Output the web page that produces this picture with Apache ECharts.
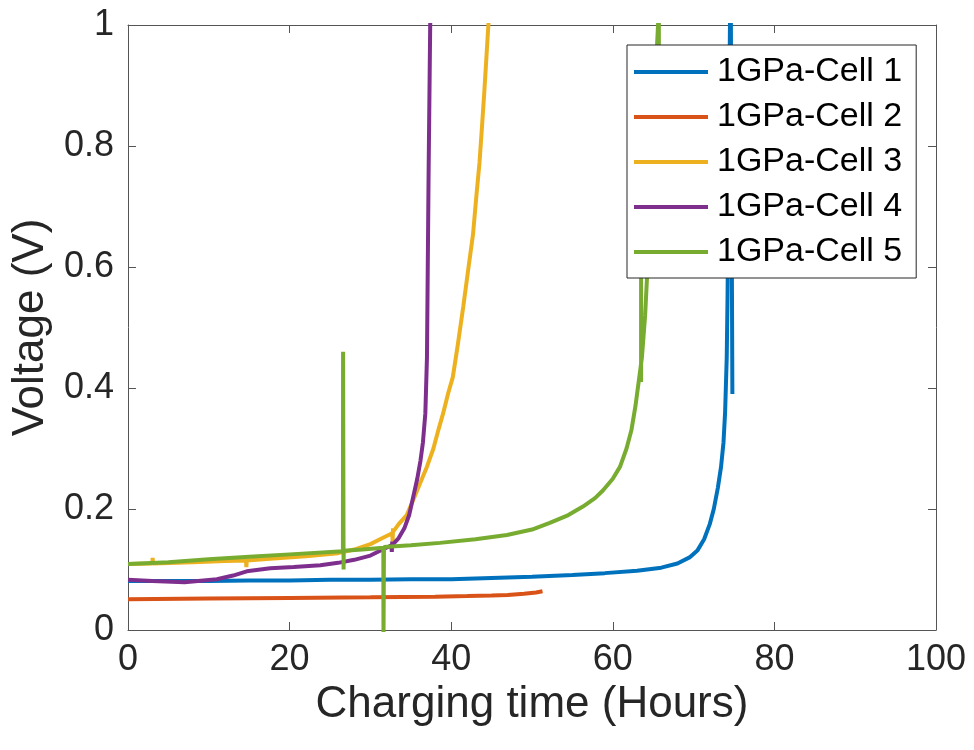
<!DOCTYPE html>
<html>
<head>
<meta charset="utf-8">
<script src="https://cdn.jsdelivr.net/npm/echarts@6/dist/echarts.min.js"></script>
<style>html,body{margin:0;padding:0;background:#fff;}#c{width:974px;height:750px;}</style>
</head>
<body>
<div id="c"></div>
<script>
var seriesNames = ['1GPa-Cell 1','1GPa-Cell 2','1GPa-Cell 3','1GPa-Cell 4','1GPa-Cell 5'];
var xTicks = [0,20,40,60,80,100];
var yTicks = [0,0.2,0.4,0.6,0.8,1];

var cell1 = [[0,0.081],[5,0.081],[10,0.081],[15,0.082],[20,0.082],[25,0.083],[30,0.083],[35,0.084],[40,0.084],[45,0.086],[50,0.088],[55,0.091],[59,0.094],[63,0.098],[66,0.103],[68,0.110],[69.5,0.120],[70.5,0.132],[71.3,0.150],[72,0.175],[72.5,0.20],[73,0.235],[73.4,0.27],[73.7,0.31],[73.9,0.36],[74.1,0.45],[74.2,0.55],[74.3,0.7],[74.4,0.85],[74.5,1.0],[74.6,1.05],[74.8,1.05],[74.8,0.39]];
var cell2 = [[0,0.051],[10,0.052],[20,0.053],[30,0.054],[38,0.055],[42,0.056],[45,0.057],[47,0.058],[49,0.060],[50.5,0.062],[51.3,0.064]];
var cell3 = [[0,0.109],[3,0.110],[3.05,0.119],[3.1,0.110],[8,0.112],[12,0.114],[14.6,0.115],[14.65,0.104],[14.7,0.115],[18,0.118],[22,0.122],[26,0.127],[28,0.133],[30,0.142],[31.5,0.152],[32.7,0.160],[32.75,0.146],[32.8,0.168],[32.85,0.163],[33.5,0.175],[34.5,0.19],[35.3,0.215],[36.1,0.241],[37.0,0.27],[37.8,0.30],[38.4,0.33],[39,0.358],[39.6,0.39],[40.2,0.418],[40.8,0.47],[41.5,0.535],[42.1,0.595],[42.7,0.654],[43.1,0.715],[43.5,0.772],[43.8,0.83],[44.1,0.89],[44.35,0.945],[44.6,1.0],[44.7,1.02]];
var cell4 = [[0,0.083],[3,0.081],[7,0.079],[11,0.084],[13,0.09],[14.7,0.097],[17.6,0.102],[20.5,0.104],[23.8,0.107],[26,0.111],[28,0.116],[30,0.123],[31.2,0.131],[32.3,0.138],[32.6,0.140],[32.65,0.129],[32.7,0.146],[32.75,0.141],[33.5,0.152],[34.2,0.168],[34.8,0.19],[35.3,0.22],[35.8,0.25],[36.2,0.28],[36.5,0.31],[36.8,0.358],[37.0,0.45],[37.1,0.6],[37.2,0.75],[37.4,1.0],[37.45,1.02]];
var cell5 = [[0,0.109],[5,0.112],[10,0.117],[15,0.121],[20,0.125],[26.6,0.130],[26.62,0.46],[26.68,0.10],[26.7,0.131],[29,0.133],[31.6,0.136],[31.62,-0.02],[31.68,0.137],[35,0.14],[38.6,0.144],[43,0.150],[46.9,0.157],[50,0.166],[52.2,0.177],[54.5,0.19],[56.3,0.204],[57.8,0.218],[58.8,0.231],[60,0.25],[60.9,0.27],[61.7,0.30],[62.3,0.33],[62.8,0.37],[63.2,0.41],[63.6,0.45],[64.0,0.52],[64.3,0.6],[64.8,0.78],[65.3,0.92],[65.6,1.0],[65.7,1.03],[65.7,0.9],[63.5,0.9],[63.5,0.41]];

var colors = ['#0072BD','#D95319','#EDB120','#7E2F8E','#77AC30'];
var allData = [cell1,cell2,cell3,cell4,cell5];

var FONT = "'Liberation Sans', Arial, Helvetica, sans-serif";
var AX = '#555555';
var TXT = '#262626';

var chart = echarts.init(document.getElementById('c'), null, {renderer:'canvas'});
var series = allData.map(function(d,i){
  return {
    name: seriesNames[i], type:'line', data:d, showSymbol:false, symbol:'none',
    lineStyle:{color:colors[i], width:4}, itemStyle:{color:colors[i]},
    clip:true, animation:false, z:2
  };
});
var tick = {show:true, inside:true, length:8, lineStyle:{color:AX}};
chart.setOption({
  animation:false,
  backgroundColor:'#fff',
  grid:{left:128, right:38, top:25, bottom:120},
  legend:{
    orient:'vertical', left:627, top:45,
    backgroundColor:'#fff', borderColor:TXT, borderWidth:1,
    padding:[10,14,9,7], itemGap:11, itemWidth:74, itemHeight:4, icon:'rect',
    textStyle:{fontFamily:FONT, fontSize:34, color:'#000', lineHeight:34, padding:[0,0,0,4]},
    data: seriesNames, z:10
  },
  xAxis:[{
    type:'value', min:0, max:100, interval:20, position:'bottom',
    name:'Charging time (Hours)', nameLocation:'middle', nameGap:52,
    nameTextStyle:{fontFamily:FONT, fontSize:44, color:TXT},
    axisLine:{show:true, onZero:false, lineStyle:{color:AX, width:1}},
    axisTick:tick,
    axisLabel:{fontFamily:FONT, fontSize:36, color:TXT, margin:12,
      formatter:function(v){return xTicks.indexOf(v)>=0?String(v):'';}},
    splitLine:{show:false}
  },{
    type:'value', min:0, max:100, interval:20, position:'top',
    axisLine:{show:true, onZero:false, lineStyle:{color:AX, width:1}},
    axisTick:tick,
    axisLabel:{show:false}, splitLine:{show:false}
  }],
  yAxis:[{
    type:'value', min:0, max:1, interval:0.2, position:'left',
    name:'Voltage (V)', nameLocation:'middle', nameGap:74, nameRotate:90,
    nameTextStyle:{fontFamily:FONT, fontSize:44, color:TXT},
    axisLine:{show:true, onZero:false, lineStyle:{color:AX, width:1}},
    axisTick:tick,
    axisLabel:{fontFamily:FONT, fontSize:36, color:TXT, margin:14,
      formatter:function(v){
        for (var i=0;i<yTicks.length;i++){ if (Math.abs(yTicks[i]-v)<1e-9) return String(yTicks[i]); }
        return '';
      }},
    splitLine:{show:false}
  },{
    type:'value', min:0, max:1, interval:0.2, position:'right',
    axisLine:{show:true, onZero:false, lineStyle:{color:AX, width:1}},
    axisTick:tick,
    axisLabel:{show:false}, splitLine:{show:false}
  }],
  series: series
});
</script>
</body>
</html>
